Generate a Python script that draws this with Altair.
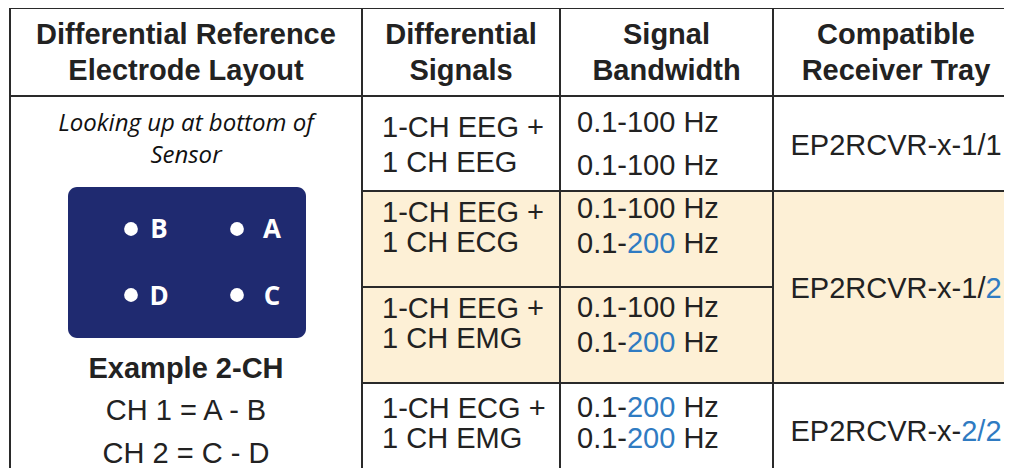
import altair as alt
import pandas as pd

# ---------------- content ----------------
header_col1 = ["Differential Reference", "Electrode Layout"]
header_col2 = ["Differential", "Signals"]
header_col3 = ["Signal", "Bandwidth"]
header_col4 = ["Compatible", "Receiver Tray"]
sensor_caption = ["Looking up at bottom of", "Sensor"]
example_title = ["Example 2-CH"]
channel_defs = ["CH 1 = A - B", "CH 2 = C - D"]
electrodes = ["B", "A", "D", "C"]
signal_lines = ["1-CH EEG +", "1 CH EEG",
                "1-CH EEG +", "1 CH ECG",
                "1-CH EEG +", "1 CH EMG",
                "1-CH ECG +", "1 CH EMG"]
bw_low = "0.1-"
bw_high = ["100", "100", "100", "200", "100", "200", "200", "200"]
bw_unit = "Hz"
bw_blue_value = "200"
receiver_runs = [[("EP2RCVR-x-1/1", False)],
                 [("EP2RCVR-x-1/", False), ("2", True)],
                 [("EP2RCVR-x-", False), ("2/2", True)]]

# ---------------- layout (page pixels) ----------------
W, H, ORIGIN = 996, 460, 8
col_edges = [10, 362, 560, 773, 1019]
row_edges = [8, 96, 191, 287, 383, 479]
header_baselines = [44, 80]
caption_baselines = [131, 163]
example_baseline = [378]
chdef_baselines = [420, 463]
signal_baselines = [137, 172, 222, 252, 318, 348, 418, 448]
bw_baselines = [132, 175, 218, 253, 317, 352, 417, 448]
receiver_baselines = [155, 298, 441]
signal_left = 382
bw_left = 577
sensor_box = (68, 306, 187, 338)
dot_x = [131, 237, 131, 237]
dot_y = [229, 229, 295, 295]
letter_x = [159, 272, 159, 272]
letter_base = [238, 238, 305, 305]

DARK = "#222222"
BLUE = "#2f7bc2"
BEIGE = "#fdf0d6"
NAVY = "#1f2a70"
LINE = "#2a2a2a"
FS = 29
SANS = "Liberation Sans"

ARIAL = {str(d): 556 for d in range(10)}
ARIAL.update({".": 278, "-": 333, " ": 278, "H": 722, "z": 500, "E": 667,
              "P": 667, "R": 722, "C": 722, "V": 667, "x": 500, "/": 278})


def tw(s, size=FS):
    return sum(ARIAL[c] for c in s) * size / 1000.0


xs = alt.Scale(domain=[ORIGIN, ORIGIN + W], nice=False, zero=False)
ys = alt.Scale(domain=[ORIGIN, ORIGIN + H], nice=False, zero=False, reverse=True)


def X(f="x"):
    return alt.X(f"{f}:Q", scale=xs, axis=None)


def Y(f="y"):
    return alt.Y(f"{f}:Q", scale=ys, axis=None)


# ---------------- backgrounds ----------------
beige = pd.DataFrame([{"x": col_edges[1], "x2": col_edges[4],
                       "y": row_edges[2], "y2": row_edges[4]}])
beige_layer = alt.Chart(beige).mark_rect(color=BEIGE).encode(
    x=X(), x2="x2:Q", y=Y(), y2="y2:Q")

# ---------------- grid lines ----------------
segs = [
    (col_edges[0], col_edges[4], row_edges[0], row_edges[0]),
    (col_edges[0], col_edges[4], row_edges[1], row_edges[1]),
    (col_edges[1], col_edges[4], row_edges[2], row_edges[2]),
    (col_edges[1], col_edges[3], row_edges[3], row_edges[3]),
    (col_edges[1], col_edges[4], row_edges[4], row_edges[4]),
]
for cx in col_edges[:4]:
    segs.append((cx, cx, row_edges[0], row_edges[5]))
lines = pd.DataFrame(segs, columns=["x", "x2", "y", "y2"])
line_layer = alt.Chart(lines).mark_rule(color=LINE, strokeWidth=2).encode(
    x=X(), x2="x2:Q", y=Y(), y2="y2:Q")

# ---------------- sensor graphic ----------------
box = pd.DataFrame([{"x": sensor_box[0], "x2": sensor_box[1],
                     "y": sensor_box[2], "y2": sensor_box[3]}])
box_layer = alt.Chart(box).mark_rect(color=NAVY, cornerRadius=9).encode(
    x=X(), x2="x2:Q", y=Y(), y2="y2:Q")
dots = pd.DataFrame({"x": dot_x, "y": dot_y})
dot_layer = alt.Chart(dots).mark_circle(color="white", opacity=1, size=190).encode(
    x=X(), y=Y())
letters = pd.DataFrame({"x": letter_x, "y": letter_base, "text": electrodes,
                        "color": ["white"] * 4})


def text_layer(df, font=SANS, size=FS, weight="normal", style="normal", align="center"):
    return alt.Chart(df).mark_text(
        font=font, fontSize=size, fontWeight=weight, fontStyle=style,
        align=align, baseline="alphabetic").encode(
        x=X(), y=Y(), text="text:N", color=alt.Color("color:N", scale=None))


letter_layer = text_layer(letters, font="Open Sans", size=26, weight="bold")

# ---------------- headers ----------------
centers = [(col_edges[i] + col_edges[i + 1]) / 2 for i in range(4)]
centers[3] = 896
hdr_rows = []
for cx, lines_ in zip(centers, [header_col1, header_col2, header_col3, header_col4]):
    for t, b in zip(lines_, header_baselines):
        hdr_rows.append({"x": cx, "y": b, "text": t, "color": DARK})
hdr_layer = text_layer(pd.DataFrame(hdr_rows), weight="bold")

# ---------------- column 1 body ----------------
cap = pd.DataFrame({"x": [centers[0]] * 2, "y": caption_baselines,
                    "text": sensor_caption, "color": ["#111111"] * 2})
cap_layer = text_layer(cap, font="Open Sans", size=24, style="italic", weight=500)
ex = pd.DataFrame({"x": [centers[0]], "y": example_baseline,
                   "text": example_title, "color": [DARK]})
ex_layer = text_layer(ex, weight="bold")
chd = pd.DataFrame({"x": [centers[0]] * 2, "y": chdef_baselines,
                    "text": channel_defs, "color": [DARK] * 2})
chd_layer = text_layer(chd)

# ---------------- signals ----------------
sig = pd.DataFrame({"x": [signal_left] * len(signal_lines), "y": signal_baselines,
                    "text": signal_lines, "color": [DARK] * len(signal_lines)})
sig_layer = text_layer(sig, align="left")

# ---------------- bandwidth (multi-colour runs) ----------------
bw_rows = []
for hi, b in zip(bw_high, bw_baselines):
    bw_rows.append({"x": bw_left, "y": b, "text": bw_low, "color": DARK})
    bw_rows.append({"x": bw_left + tw(bw_low), "y": b, "text": hi,
                    "color": BLUE if hi == bw_blue_value else DARK})
    bw_rows.append({"x": bw_left + tw(bw_low + hi + " "), "y": b, "text": bw_unit,
                    "color": DARK})
bw_layer = text_layer(pd.DataFrame(bw_rows), align="left")

# ---------------- receivers ----------------
rc_rows = []
for runs, b in zip(receiver_runs, receiver_baselines):
    total = sum(tw(t) for t, _ in runs)
    x0 = centers[3] - total / 2
    for t, blue in runs:
        rc_rows.append({"x": x0, "y": b, "text": t, "color": BLUE if blue else DARK})
        x0 += tw(t)
rc_layer = text_layer(pd.DataFrame(rc_rows), align="left")

chart = alt.layer(
    beige_layer, box_layer, dot_layer, letter_layer, line_layer,
    hdr_layer, cap_layer, ex_layer, chd_layer, sig_layer, bw_layer, rc_layer
).properties(
    width=W, height=H, padding=0,
    autosize=alt.AutoSizeParams(type="none"), background="white"
).configure_view(stroke=None)

chart.save("out.html", embed_options={"renderer": "svg", "actions": False})
